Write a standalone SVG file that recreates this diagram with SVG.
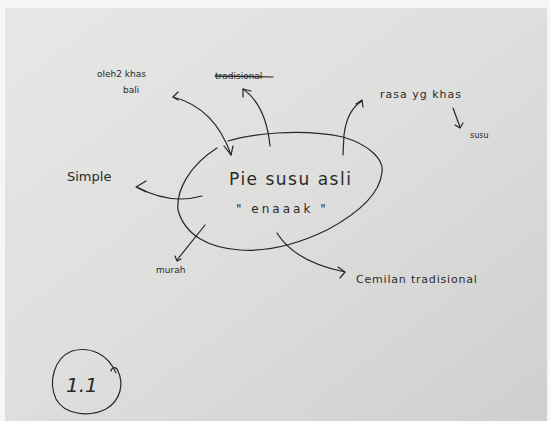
<svg xmlns="http://www.w3.org/2000/svg" width="550" height="421" viewBox="0 0 550 421">
<defs>
<linearGradient id="paper" x1="0" y1="0" x2="1" y2="1">
<stop offset="0" stop-color="#e7e7e5"/>
<stop offset="0.5" stop-color="#dededc"/>
<stop offset="1" stop-color="#cfcfcd"/>
</linearGradient>
<style>
.ink{fill:none;stroke:#262626;stroke-width:1.2;stroke-linecap:round;stroke-linejoin:round}
.t{font-family:"DejaVu Sans","Liberation Sans",sans-serif;fill:#2a2a2a}
</style>
</defs>
<rect x="0" y="0" width="550" height="421" fill="#f6f6f6"/>
<rect x="5" y="8" width="542" height="413" fill="url(#paper)"/>

<g id="center">
<path class="ink" d="M228,141 C250,134 300,128 343,137 C370,145 384,160 382,172 C380,195 355,215 327,230 C300,243 270,252 240,250 C210,248 185,236 178,210 C176,190 190,165 217,148"/>
<text class="t" x="229" y="185" font-size="17" letter-spacing="1.5">Pie susu asli</text>
<text class="t" x="236" y="213" font-size="12" letter-spacing="3">" enaaak "</text>
</g>

<g id="oleh">
<text class="t" x="97" y="77" font-size="9">oleh2 khas</text>
<text class="t" x="123" y="93" font-size="9">bali</text>
</g>

<g id="tradisional">
<text class="t" x="215" y="79" font-size="9" text-decoration="line-through">tradisional</text>
<path class="ink" d="M215,76 L273,77"/>
</g>

<g id="rasa">
<text class="t" x="380" y="98" font-size="11" letter-spacing="1">rasa yg khas</text>
</g>

<g id="susu">
<text class="t" x="470" y="138" font-size="8">susu</text>
</g>

<g id="simple">
<text class="t" x="67" y="181" font-size="13">Simple</text>
</g>

<g id="murah">
<text class="t" x="156" y="273" font-size="9">murah</text>
</g>

<g id="cemilan">
<text class="t" x="356" y="283" font-size="11" letter-spacing="0.8">Cemilan tradisional</text>
</g>

<g id="label-1-1">
<path class="ink" d="M116,373 C108,354 90,346 72,351 C54,358 48,382 56,399 C64,414 88,418 106,409 C121,400 124,384 118,371 C116,366 112,367 111,371"/>
<text class="t" x="66" y="392" font-size="20" font-style="italic">1.1</text>
</g>

<g id="connectors">
<path class="ink" d="M173,97 Q215,108 231,155"/>
<path class="ink" d="M178,92 L173,97 L178,100"/>
<path class="ink" d="M224,146 L231,155 L233,146"/>
<path class="ink" d="M270,146 Q266,105 243,89"/>
<path class="ink" d="M243,97 L243,89 L251,91"/>
<path class="ink" d="M343,155 L344,135 Q347,110 362,101"/>
<path class="ink" d="M356,104 L362,100 L363,107"/>
<path class="ink" d="M453,108 Q457,119 460,127"/>
<path class="ink" d="M455,125 L460,128 L463,123"/>
<path class="ink" d="M202,196 Q170,205 137,187"/>
<path class="ink" d="M146,181 L136,187 L146,192"/>
<path class="ink" d="M205,225 L177,260"/>
<path class="ink" d="M175,256 L177,261 L181,259"/>
<path class="ink" d="M277,233 Q295,262 345,272"/>
<path class="ink" d="M338,267 L345,272 L340,278"/>
</g>
</svg>
